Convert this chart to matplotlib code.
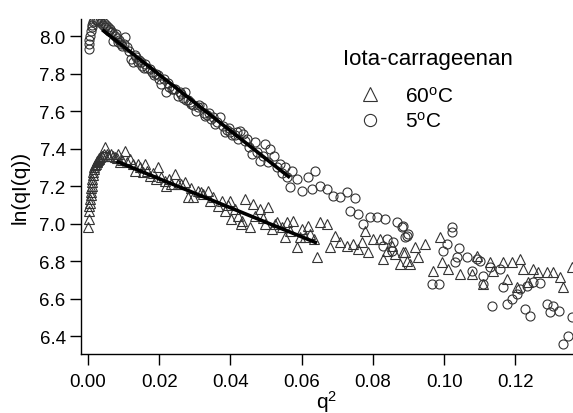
import matplotlib
matplotlib.use("Agg")
import matplotlib.pyplot as plt

plt.rcParams['font.family'] = ['Liberation Sans', 'DejaVu Sans']
plt.rcParams['mathtext.fontset'] = 'custom'
plt.rcParams['mathtext.rm'] = 'Liberation Sans'
plt.rcParams['mathtext.it'] = 'Liberation Sans'

# 5 C  (circles)
q2_cold = [0.0002, 0.0003, 0.0004, 0.0006, 0.0008, 0.0010, 0.0012, 0.0015, 0.0018, 0.0021,
           0.0025, 0.0029, 0.0033, 0.0037, 0.0042, 0.0047, 0.0052, 0.0058, 0.0064, 0.0070,
           0.0079, 0.0085, 0.0092, 0.0104, 0.0110, 0.0121, 0.0126, 0.0136, 0.0144, 0.0152,
           0.0160, 0.0174, 0.0180, 0.0190, 0.0197, 0.0205, 0.0213, 0.0219, 0.0228, 0.0236,
           0.0245, 0.0253, 0.0262, 0.0272, 0.0281, 0.0290, 0.0303, 0.0312, 0.0320, 0.0329,
           0.0340, 0.0350, 0.0357, 0.0371, 0.0378, 0.0385, 0.0395, 0.0405, 0.0418, 0.0427,
           0.0435, 0.0447, 0.0460, 0.0469, 0.0483, 0.0497, 0.0511, 0.0522, 0.0540, 0.0552,
           0.0567, 0.0573, 0.0587, 0.0601, 0.0618, 0.0630, 0.0638, 0.0652, 0.0671, 0.0688,
           0.0708, 0.0728, 0.0736, 0.0750, 0.0758, 0.0772, 0.0792, 0.0812, 0.0829, 0.0834,
           0.0840, 0.0854, 0.0857, 0.0868, 0.0882, 0.0885, 0.0890, 0.0896, 0.0899, 0.0966,
           0.0986, 0.0997, 0.1008, 0.1022, 0.1022, 0.1031, 0.1037, 0.1042, 0.1065, 0.1079,
           0.1093, 0.1101, 0.1110, 0.1110, 0.1129, 0.1135, 0.1157, 0.1166, 0.1177, 0.1191,
           0.1205, 0.1213, 0.1228, 0.1233, 0.1242, 0.1250, 0.1270, 0.1289, 0.1298, 0.1306,
           0.1323, 0.1334, 0.1348, 0.1360,
           0.0045, 0.0050, 0.0056, 0.0062, 0.0068, 0.0075, 0.0082, 0.0088, 0.0096, 0.0100,
           0.0115, 0.0131, 0.0140, 0.0148, 0.0156, 0.0166, 0.0185, 0.0200, 0.0224, 0.0240,
           0.0258, 0.0267, 0.0276, 0.0286, 0.0295, 0.0308, 0.0325, 0.0335, 0.0345, 0.0362,
           0.0390, 0.0400, 0.0412, 0.0422, 0.0440, 0.0452, 0.0475, 0.0490, 0.0505, 0.0530,
           0.0545, 0.0558]
ln_cold = [7.93, 7.96, 7.98, 8.00, 8.03, 8.05, 8.06, 8.075, 8.08, 8.085,
           8.085, 8.08, 8.08, 8.07, 8.06, 8.05, 8.04, 8.03, 8.02, 7.973,
           8.01, 7.97, 7.96, 7.995, 7.94, 7.877, 7.86, 7.89, 7.87, 7.84,
           7.85, 7.824, 7.81, 7.80, 7.79, 7.744, 7.77, 7.70, 7.73, 7.72,
           7.72, 7.68, 7.69, 7.70, 7.66, 7.64, 7.60, 7.63, 7.62, 7.573,
           7.59, 7.57, 7.53, 7.568, 7.52, 7.488, 7.51, 7.47, 7.49, 7.493,
           7.477, 7.45, 7.37, 7.435, 7.333, 7.424, 7.397, 7.36, 7.317, 7.30,
           7.195, 7.28, 7.237, 7.173, 7.248, 7.184, 7.28, 7.20, 7.184, 7.147,
           7.141, 7.168, 7.067, 7.136, 7.05, 6.997, 7.035, 7.035, 6.88, 7.024,
           6.917, 6.853, 6.90, 7.008, 6.98, 6.987, 6.928, 6.933, 6.944, 6.677,
           6.677, 6.853, 6.89, 6.98, 6.955, 6.795, 6.821, 6.869, 6.821, 6.747,
           6.81, 6.80, 6.72, 6.677, 6.768, 6.56, 6.757, 6.661, 6.571, 6.597,
           6.624, 6.651, 6.544, 6.667, 6.507, 6.688, 6.683, 6.571, 6.528, 6.56,
           6.533, 6.357, 6.40, 6.50,
           8.07, 8.06, 8.05, 8.04, 8.02, 8.00, 7.99, 7.98, 7.95, 7.96,
           7.92, 7.90, 7.86, 7.86, 7.83, 7.83, 7.79, 7.77, 7.75, 7.72,
           7.70, 7.67, 7.66, 7.65, 7.63, 7.62, 7.59, 7.58, 7.56, 7.54,
           7.50, 7.49, 7.47, 7.45, 7.44, 7.41, 7.38, 7.36, 7.33, 7.30,
           7.27, 7.25]

# 60 C  (triangles)
q2_hot = [0.0001, 0.0002, 0.0003, 0.0004, 0.0006, 0.0008, 0.0010, 0.0012, 0.0015, 0.0018,
          0.0022, 0.0026, 0.0030, 0.0035, 0.0040, 0.0048, 0.0056, 0.0065, 0.0076, 0.0084,
          0.0090, 0.0104, 0.0118, 0.0132, 0.0140, 0.0155, 0.0160, 0.0174, 0.0191, 0.0197,
          0.0216, 0.0219, 0.0233, 0.0244, 0.0253, 0.0272, 0.0281, 0.0295, 0.0309, 0.0323,
          0.0337, 0.0343, 0.0365, 0.0385, 0.0399, 0.0402, 0.0421, 0.0430, 0.0433, 0.0441,
          0.0455, 0.0463, 0.0483, 0.0497, 0.0506, 0.0517, 0.0531, 0.0553, 0.0559, 0.0576,
          0.0587, 0.0596, 0.0601, 0.0618, 0.0624, 0.0643, 0.0652, 0.0671, 0.0680, 0.0694,
          0.0708, 0.0728, 0.0744, 0.0758, 0.0770, 0.0778, 0.0787, 0.0801, 0.0820, 0.0829,
          0.0840, 0.0854, 0.0862, 0.0876, 0.0885, 0.0890, 0.0896, 0.0904, 0.0919, 0.0927,
          0.0947, 0.0969, 0.0989, 0.0994, 0.1011, 0.1045, 0.1079, 0.1093, 0.1110, 0.1129,
          0.1138, 0.1166, 0.1177, 0.1191, 0.1205, 0.1213, 0.1222, 0.1236, 0.1250, 0.1264,
          0.1289, 0.1306, 0.1326, 0.1334, 0.1360,
          0.0005, 0.0007, 0.0009, 0.0011, 0.0014, 0.0017, 0.0020, 0.0024, 0.0028, 0.0032,
          0.0038, 0.0044, 0.0052, 0.0060, 0.0070, 0.0080, 0.0096, 0.0110, 0.0125, 0.0147,
          0.0167, 0.0182, 0.0205, 0.0226, 0.0262, 0.0288, 0.0316, 0.0352, 0.0375, 0.0392,
          0.0413, 0.0470, 0.0490, 0.0524, 0.0545, 0.0568, 0.0610, 0.0635]
ln_hot = [6.98, 7.024, 7.067, 7.093, 7.13, 7.168, 7.20, 7.237, 7.275, 7.30,
          7.317, 7.333, 7.345, 7.355, 7.36, 7.408, 7.36, 7.37, 7.355, 7.37,
          7.328, 7.387, 7.344, 7.28, 7.317, 7.275, 7.317, 7.253, 7.237, 7.30,
          7.227, 7.20, 7.211, 7.264, 7.211, 7.221, 7.141, 7.141, 7.173, 7.157,
          7.173, 7.12, 7.093, 7.067, 7.12, 7.024, 7.04, 6.997, 7.013, 7.13,
          6.981, 7.104, 7.077, 6.997, 7.088, 6.971, 7.008, 6.928, 7.008, 7.013,
          6.875, 6.928, 6.971, 6.987, 6.944, 6.82, 7.008, 6.997, 6.875, 6.933,
          6.90, 6.88, 6.89, 6.864, 6.90, 6.96, 6.848, 6.917, 6.917, 6.81,
          6.853, 6.88, 6.837, 6.784, 6.848, 6.848, 6.80, 6.784, 6.875, 6.82,
          6.89, 6.747, 6.928, 6.795, 6.757, 6.73, 6.73, 6.827, 6.677, 6.795,
          6.747, 6.795, 6.704, 6.795, 6.661, 6.81, 6.757, 6.688, 6.757, 6.741,
          6.741, 6.741, 6.715, 6.661, 6.768,
          7.11, 7.15, 7.19, 7.22, 7.26, 7.29, 7.31, 7.33, 7.34, 7.35,
          7.36, 7.37, 7.37, 7.36, 7.36, 7.35, 7.34, 7.33, 7.32, 7.30,
          7.28, 7.27, 7.25, 7.24, 7.21, 7.19, 7.17, 7.14, 7.12, 7.10,
          7.08, 7.04, 7.03, 7.00, 6.98, 6.96, 6.93, 6.92]

# linear fits
fit_cold_x = [0.0040, 0.0567]
fit_cold_y = [8.034, 7.245]
fit_hot_x = [0.0080, 0.0643]
fit_hot_y = [7.332, 6.896]

xticks = [0.00, 0.02, 0.04, 0.06, 0.08, 0.10, 0.12]
yticks = [6.4, 6.6, 6.8, 7.0, 7.2, 7.4, 7.6, 7.8, 8.0]

fig = plt.figure(figsize=(5.73, 4.14), dpi=100)
ax = fig.add_axes([0.1414, 0.1425, 0.8586, 0.809])

mk = dict(linestyle='none', mfc='none', mec='#333333', mew=0.8)
ax.plot(q2_hot, ln_hot, marker='^', ms=7, label='60$^{\\rm o}$C', **mk)
ax.plot(q2_cold, ln_cold, marker='o', ms=6.5, label='5$^{\\rm o}$C', **mk)
ax.plot(fit_cold_x, fit_cold_y, color='black', lw=2.6, solid_capstyle='butt')
ax.plot(fit_hot_x, fit_hot_y, color='black', lw=2.6, solid_capstyle='butt')

ax.set_xlim(-0.00197, 0.1362)
ax.set_ylim(6.304, 8.091)
ax.set_xticks(xticks)
ax.set_xticklabels(['%.2f' % v for v in xticks])
ax.set_yticks(yticks)
ax.set_yticklabels(['%.1f' % v for v in yticks])

for s in ['top', 'right']:
    ax.spines[s].set_visible(False)
for s in ['left', 'bottom']:
    ax.spines[s].set_linewidth(1.0)
ax.tick_params(axis='both', direction='out', length=8, width=1.0, labelsize=13.5)
ax.tick_params(axis='x', pad=6)
ax.tick_params(axis='y', pad=3)

ax.set_xlabel('q$^2$', fontsize=15, labelpad=-2)
ax.set_ylabel('ln(qI(q))', fontsize=15, labelpad=7)

ax.text(0.5325, 0.881, 'Iota-carrageenan', transform=ax.transAxes,
        fontsize=16, ha='left', va='center')
leg = ax.legend(loc='upper left', bbox_to_anchor=(0.545, 0.801),
                frameon=False, fontsize=15, handlelength=2.0, handletextpad=0.68,
                labelspacing=0.25, borderpad=0, borderaxespad=0, markerscale=1.35)

fig.savefig('out.png', dpi=100)
